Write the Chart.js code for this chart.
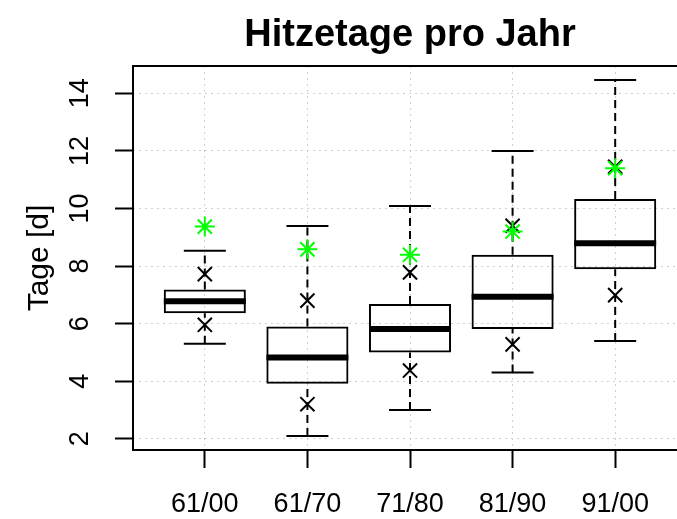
<!DOCTYPE html>
<html>
<head>
<meta charset="utf-8">
<script src="https://cdn.jsdelivr.net/npm/chart.js@4.4.0/dist/chart.umd.min.js"></script>
<style>
  html, body { margin: 0; padding: 0; background: #fff; overflow: hidden; }
  canvas { display: block; }
</style>
</head>
<body>
<canvas id="chart" width="690" height="519"></canvas>
<script>
var zeitraeume = ['61/00', '61/70', '71/80', '81/90', '91/00'];
var whiskerUnten = [5.3, 2.1, 3.0, 4.3, 5.4];
var quartil1 = [6.36, 3.91, 5.0, 5.81, 7.89];
var median = [6.78, 4.82, 5.81, 6.93, 8.79];
var quartil3 = [7.19, 5.9, 6.68, 8.39, 10.33];
var whiskerOben = [8.53, 9.39, 10.09, 12.0, 14.46];
var kreuzUnten = [5.96, 3.2, 4.37, 5.28, 6.99];
var kreuzOben = [7.72, 6.8, 7.78, 9.4, 11.45];
var sterne = [9.37, 8.58, 8.39, 9.2, 11.4];
var yTicks = [2, 4, 6, 8, 10, 12, 14];

var FONT = 'Liberation Sans, Arial, Helvetica, sans-serif';

function punkte(werte) {
    return werte.map(function (v, i) { return { x: i + 1, y: v }; });
}

// Whisker als Linien mit Luecken (null) zwischen den Boxen
function whiskerLinien() {
    var d = [];
    for (let i = 0; i < zeitraeume.length; i++) {
        d.push({ x: i + 1, y: quartil3[i] }, { x: i + 1, y: whiskerOben[i] }, { x: i + 1, y: null });
        d.push({ x: i + 1, y: whiskerUnten[i] }, { x: i + 1, y: quartil1[i] }, { x: i + 1, y: null });
    }
    return d;
}

var rahmenUndTitel = {
    id: 'rahmenUndTitel',
    afterDraw: function (chart) {
        var ctx = chart.ctx, a = chart.chartArea, ys = chart.scales.y;
        ctx.save();
        ctx.strokeStyle = '#000';
        ctx.lineWidth = 2;
        ctx.strokeRect(a.left, a.top, a.right - a.left, a.bottom - a.top);

        ctx.fillStyle = '#000';
        ctx.font = 'bold 38px ' + FONT;
        ctx.textAlign = 'center';
        ctx.textBaseline = 'alphabetic';
        ctx.fillText('Hitzetage pro Jahr', (a.left + a.right) / 2, 46);

        ctx.font = '27px ' + FONT;
        yTicks.forEach(function (t) {
            var y = ys.getPixelForValue(t);
            ctx.save();
            ctx.translate(88, y);
            ctx.rotate(-Math.PI / 2);
            ctx.fillText(String(t), 0, 0);
            ctx.restore();
        });
        ctx.restore();
    }
};

var ctx = document.getElementById('chart').getContext('2d');
var myChart = new Chart(ctx, {
    data: {
        datasets: [{
            type: 'bar',
            label: 'Box',
            data: quartil1.map(function (q, i) { return { x: i + 1, y: [q, quartil3[i]] }; }),
            backgroundColor: 'rgba(0,0,0,0)',
            borderColor: '#000',
            borderWidth: 2,
            borderSkipped: false,
            barPercentage: 0.8,
            categoryPercentage: 1,
            order: 5
        }, {
            type: 'line',
            label: 'Whisker',
            data: whiskerLinien(),
            borderColor: '#000',
            borderWidth: 2,
            borderDash: [8, 5],
            pointRadius: 0,
            spanGaps: false,
            order: 4
        }, {
            type: 'scatter',
            label: 'Kappe oben',
            data: punkte(whiskerOben),
            pointStyle: 'line',
            radius: 21,
            borderColor: '#000',
            borderWidth: 2,
            order: 3
        }, {
            type: 'scatter',
            label: 'Kappe unten',
            data: punkte(whiskerUnten),
            pointStyle: 'line',
            radius: 21,
            borderColor: '#000',
            borderWidth: 2,
            order: 3
        }, {
            type: 'scatter',
            label: 'Median',
            data: punkte(median),
            pointStyle: 'line',
            radius: 41,
            borderColor: '#000',
            borderWidth: 6,
            order: 2
        }, {
            type: 'scatter',
            label: 'Kreuz',
            data: punkte(kreuzOben).concat(punkte(kreuzUnten)),
            pointStyle: 'crossRot',
            radius: 10,
            borderColor: '#000',
            borderWidth: 2,
            order: 1
        }, {
            type: 'scatter',
            label: 'Stern',
            data: punkte(sterne),
            pointStyle: 'star',
            radius: 10,
            borderColor: '#00ff00',
            borderWidth: 2,
            order: 0
        }]
    },
    options: {
        responsive: false,
        animation: false,
        layout: { autoPadding: false, padding: { top: 66, right: 3, left: 22, bottom: 0 } },
        plugins: {
            legend: { display: false },
            tooltip: { enabled: false }
        },
        scales: {
            x: {
                type: 'linear',
                offset: false,
                min: 0.3,
                max: 5.7,
                afterBuildTicks: function (s) {
                    s.ticks = zeitraeume.map(function (z, i) { return { value: i + 1 }; });
                },
                afterFit: function (s) {
                    s.height = 69;
                    s.paddingLeft = 0;
                    s.paddingRight = 0;
                },
                ticks: {
                    color: '#000',
                    font: { family: FONT, size: 27 },
                    padding: 20,
                    maxRotation: 0,
                    autoSkip: false,
                    callback: function (v) { return zeitraeume[v - 1]; }
                },
                grid: {
                    offset: false,
                    color: '#cfcfcf',
                    tickColor: '#000',
                    tickLength: 18,
                    tickWidth: 2,
                    tickBorderDash: []
                },
                border: { display: false, dash: [2, 4] }
            },
            y: {
                min: 1.61,
                max: 14.95,
                afterBuildTicks: function (s) {
                    s.ticks = yTicks.map(function (t) { return { value: t }; });
                },
                afterFit: function (s) { s.width = 111; },
                ticks: { display: false },
                title: {
                    display: true,
                    text: 'Tage [d]',
                    color: '#000',
                    font: { family: FONT, size: 30 },
                    padding: { top: 0, bottom: 0 }
                },
                grid: {
                    color: '#cfcfcf',
                    tickColor: '#000',
                    tickLength: 18,
                    tickWidth: 2,
                    tickBorderDash: []
                },
                border: { display: false, dash: [2, 4] }
            }
        }
    },
    plugins: [rahmenUndTitel]
});
</script>
</body>
</html>
